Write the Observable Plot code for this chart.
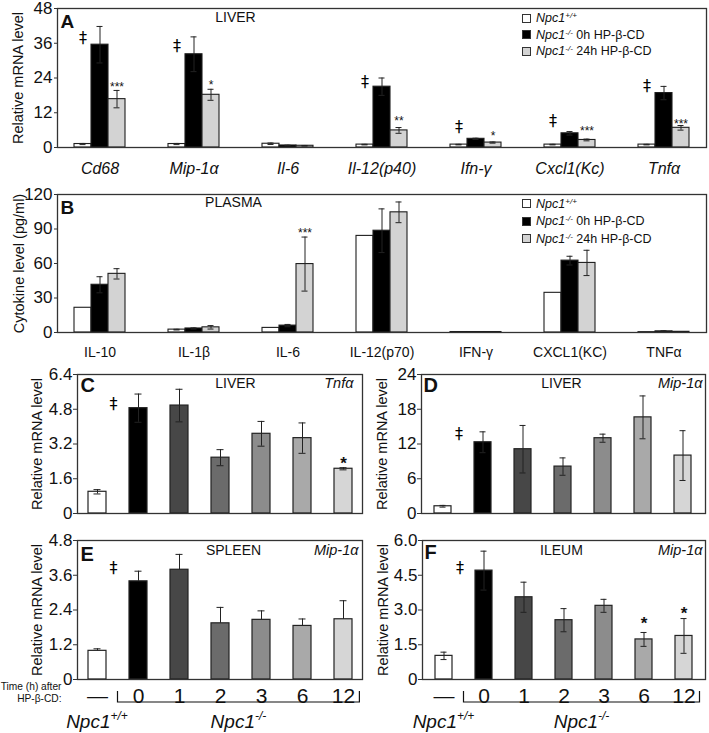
<!DOCTYPE html>
<html><head><meta charset="utf-8">
<script src="https://cdn.jsdelivr.net/npm/d3@7"></script>
<script src="https://cdn.jsdelivr.net/npm/@observablehq/plot@0.6"></script>
<style>
body{margin:0;background:#fff;font-family:"Liberation Sans",Arial,Helvetica,sans-serif;}
#fig{position:relative;width:709px;height:733px;overflow:hidden;background:#fff;}
.panel{position:absolute;}
.legend{position:absolute;font-size:12.5px;color:#111;white-space:nowrap;}
.legend .row{display:flex;align-items:center;}
.legend .sw{display:inline-block;width:7px;height:7px;border:1px solid #333;margin-right:5px;}
.legend i sup{font-size:0.65em;line-height:0;vertical-align:0.55em;}
</style></head>
<body><div id="fig"></div>
<script>
// ================= DATA =================
const seriesNames = ["Npc1+/+", "Npc1-/- 0h HP-β-CD", "Npc1-/- 24h HP-β-CD"];
const seriesFills = ["#ffffff", "#000000", "#d3d3d3"];

// Panel A: liver mRNA
const genesA = ["Cd68", "Mip-1α", "Il-6", "Il-12(p40)", "Ifn-γ", "Cxcl1(Kc)", "Tnfα"];
const wtA = [1.2, 1.2, 1.3, 1.0, 1.0, 1.0, 1.0];
const wtErrA = [0.2, 0.2, 0.25, 0.1, 0.1, 0.1, 0.1];
const ko0hA = [35.5, 32.2, 0.7, 21.0, 3.0, 4.9, 18.8];
const ko0hErrA = [6.3, 6.0, 0.1, 3.0, 0.2, 0.6, 2.3];
const ko24hA = [16.7, 18.2, 0.6, 5.9, 1.7, 2.6, 6.8];
const ko24hErrA = [3.0, 1.9, 0.1, 1.0, 0.2, 0.3, 0.8];
const ticksA = [0, 12, 24, 36, 48];
const daggerCatsA = ["Cd68", "Mip-1α", "Il-12(p40)", "Ifn-γ", "Cxcl1(Kc)", "Tnfα"];
const daggerYA = [38, 35, 22.5, 7, 9.3, 21.4];
const starCatsA = ["Cd68", "Mip-1α", "Il-12(p40)", "Ifn-γ", "Cxcl1(Kc)", "Tnfα"];
const starTextA = ["***", "*", "**", "*", "***", "***"];
const starYA = [22, 22.5, 10, 4.8, 6.6, 9.1];

// Panel B: plasma cytokines
const cytokinesB = ["IL-10", "IL-1β", "IL-6", "IL-12(p70)", "IFN-γ", "CXCL1(KC)", "TNFα"];
const wtB = [21.5, 2.5, 4, 84, 0.4, 34.5, 0.3];
const wtErrB = [0, 0.3, 0, 0, 0, 0, 0];
const ko0hB = [41.5, 3.5, 6, 88.5, 0.4, 62.5, 1.0];
const ko0hErrB = [7, 0.5, 1, 19, 0, 3.8, 0.5];
const ko24hB = [51, 4.5, 59.5, 104.5, 0.4, 60.5, 0.6];
const ko24hErrB = [4.5, 1.5, 23.5, 9, 0, 11, 0.2];
const ticksB = [0, 30, 60, 90, 120];
const starCatsB = ["IL-6"];
const starTextB = ["***"];
const starYB = [88.7];

// Panels C-F: time course
const timeLabels = ["—", "0", "1", "2", "3", "6", "12"];
const timeFills = ["#ffffff", "#000000", "#474747", "#6b6b6b", "#8c8c8c", "#a9a9a9", "#d6d6d6"];

const liverTnfC = [1.0, 4.85, 4.97, 2.57, 3.67, 3.47, 2.06];
const liverTnfErrC = [0.1, 0.65, 0.75, 0.37, 0.57, 0.7, 0.05];
const ticksC = [0, 1.6, 3.2, 4.8, 6.4];
const starsC = ["", "", "", "", "", "", "*"];
const starYC = [0, 0, 0, 0, 0, 0, 2.35];
const daggerYC = 5.07;

const liverMipD = [1.25, 12.3, 11.1, 8.1, 13.0, 16.6, 10.0];
const liverMipErrD = [0.15, 1.8, 4.1, 1.5, 0.7, 3.7, 4.3];
const ticksD = [0, 6, 12, 18, 24];
const daggerYD = 13.8;

const spleenMipE = [0.99, 3.39, 3.79, 1.94, 2.06, 1.85, 2.08];
const spleenMipErrE = [0.07, 0.35, 0.53, 0.55, 0.31, 0.24, 0.64];
const ticksE = [0, 1.2, 2.4, 3.6, 4.8];
const daggerYE = 3.87;

const ileumMipF = [1.02, 4.70, 3.55, 2.56, 3.18, 1.73, 1.88];
const ileumMipErrF = [0.16, 0.84, 0.65, 0.5, 0.28, 0.3, 0.75];
const ticksF = [0, 1.5, 3.0, 4.5, 6.0];
const starsF = ["", "", "", "", "", "*", "*"];
const starYF = [0, 0, 0, 0, 0, 2.46, 2.9];
const daggerYF = 4.83;

// ================= HELPERS =================
const FONT = '"Liberation Sans", Arial, Helvetica, sans-serif';
const SYMFONT = '"DejaVu Sans", "Liberation Sans", sans-serif';
const INK = "#111";
const fig = document.getElementById("fig");
function place(node, left, top) {
  const d = document.createElement("div");
  d.className = "panel";
  d.style.left = left + "px"; d.style.top = top + "px";
  d.appendChild(node); fig.appendChild(d); return d;
}
function yLabelMark(label, dx) {
  return Plot.text([label], {text: d => d, frameAnchor: "left", rotate: -90, dx, textAnchor: "middle", lineAnchor: "middle", fontSize: 14.5, fill: INK});
}
function cornerText(t, anchor, dx, dy, extra) {
  return Plot.text([t], {text: d => d, frameAnchor: anchor, dx, dy, lineAnchor: "middle", fill: INK, ...extra});
}
const fmt1 = d => d === 0 ? "0" : d.toFixed(1);

function groupedPanel(o) {
  const offs = [-17, 0, 17];
  const marks = [];
  const errMarks = [];
  o.series.forEach((s, si) => {
    const d = o.cats.map((c, i) => ({cat: c, v: s.values[i], lo: Math.max(0, s.values[i] - s.err[i]), hi: s.values[i] + s.err[i]}));
    marks.push(Plot.barY(d, {x: "cat", y: "v", fill: s.fill, stroke: "#1e1e1e", strokeWidth: 1.1, insetLeft: si * 17, insetRight: (2 - si) * 17}));
    const de = d.filter(r => r.hi > r.v + 0.001);
    errMarks.push(Plot.ruleX(de, {x: "cat", y1: "lo", y2: "hi", dx: offs[si], stroke: "#222", strokeWidth: 1}));
    errMarks.push(Plot.tickY(de, {x: "cat", y: "hi", dx: offs[si], insetLeft: 22.5, insetRight: 22.5, stroke: "#222", strokeWidth: 1}));
    errMarks.push(Plot.tickY(de, {x: "cat", y: "lo", dx: offs[si], insetLeft: 22.5, insetRight: 22.5, stroke: "#222", strokeWidth: 1}));
  });
  const daggers = (o.daggerCats || []).map((c, i) => ({cat: c, y: o.daggerY[i]}));
  const stars = (o.starCats || []).map((c, i) => ({cat: c, y: o.starY[i], s: o.starText[i]}));
  const svg = Plot.plot({
    width: o.width, height: o.height,
    marginLeft: o.ml, marginRight: o.mr, marginTop: o.mt, marginBottom: o.mb,
    style: {fontFamily: FONT, fontSize: "15px", color: INK, background: "transparent", overflow: "visible"},
    x: {domain: o.cats, paddingInner: 0.46, paddingOuter: 0.16, label: null},
    y: {domain: [0, o.yMax], label: null},
    marks: [
      ...marks,
      ...errMarks,
      Plot.text(daggers, {x: "cat", y: "y", text: () => "‡", dx: -17, fontSize: 16, fontFamily: SYMFONT, fill: "#000"}),
      Plot.text(stars, {x: "cat", y: "y", text: "s", dx: 17, dy: 3, fontSize: 12, fill: INK}),
      Plot.frame({stroke: "#333", strokeWidth: 1.3}),
      Plot.axisY({ticks: o.ticks, tickSize: 3, tickPadding: 2, fontSize: 17, label: null, stroke: "#333"}),
      Plot.axisX({tickSize: 0, tickPadding: o.xPad, fontSize: o.xFont, fontStyle: o.italic ? "italic" : "normal", label: null}),
      yLabelMark(o.yLabel, o.yLabelDx),
      cornerText(o.letter, "top-left", 3, 13.5, {fontSize: 19, fontWeight: "bold", textAnchor: "start"}),
      cornerText(o.title, "top-left", o.titleDx, o.titleDy, {fontSize: 14, textAnchor: "middle"})
    ]
  });
  if (o.italic) d3.select(svg).selectAll('g[aria-label="x-axis tick label"]').attr("font-style", "italic");
  return svg;
}

function timePanel(o) {
  const d = timeLabels.map((t, i) => ({t, v: o.values[i], lo: o.upOnly ? o.values[i] : Math.max(0, o.values[i] - o.err[i]), hi: o.values[i] + o.err[i], fill: timeFills[i], star: (o.stars || [])[i] || "", sy: (o.starY || [])[i] || 0}));
  const starData = d.filter(r => r.star);
  const marks = [
    Plot.barY(d, {x: "t", y: "v", fill: d => d.fill, stroke: "#222", strokeWidth: 1.2, insetLeft: 0, insetRight: 0}),
    Plot.ruleX(d, {x: "t", y1: "lo", y2: "hi", stroke: "#222", strokeWidth: 1}),
    Plot.tickY(d, {x: "t", y: "hi", insetLeft: 5.5, insetRight: 5.5, stroke: "#222", strokeWidth: 1}),
    ...(o.upOnly ? [] : [Plot.tickY(d, {x: "t", y: "lo", insetLeft: 5.5, insetRight: 5.5, stroke: "#222", strokeWidth: 1})]),
    Plot.text([{t: "—", y: o.daggerY}], {x: "t", y: "y", text: () => "‡", dx: 16, fontSize: 16, fontFamily: SYMFONT, fill: "#000"}),
    Plot.text(starData, {x: "t", y: "sy", text: "star", dy: 1, fontSize: 17, fontWeight: "bold", fill: INK}),
    Plot.frame({stroke: "#333", strokeWidth: 1.3}),
    Plot.axisY({ticks: o.ticks, tickSize: 4, tickPadding: 1, fontSize: 17, tickFormat: o.fmt, label: null, stroke: "#333"}),
    yLabelMark("Relative mRNA level", o.yLabelDx),
    cornerText(o.letter, "top-left", o.letterDx, o.letterDy, {fontSize: 20, fontWeight: "bold", textAnchor: "start"}),
    cornerText(o.title, "top-left", o.titleDx, o.titleDy, {fontSize: 14, textAnchor: "middle"}),
    cornerText(o.gene, "top-right", o.geneDx, o.titleDy, {fontSize: 14.5, fontStyle: "italic", textAnchor: "end"})
  ];
  if (o.xAxis) marks.push(Plot.axisX({tickSize: 0, tickPadding: 9, fontSize: 21, label: null}));
  const svg = Plot.plot({
    width: o.width, height: o.height,
    marginLeft: o.ml, marginRight: o.mr, marginTop: o.mt, marginBottom: o.mb,
    style: {fontFamily: FONT, fontSize: "15px", color: INK, background: "transparent", overflow: "visible"},
    x: {domain: timeLabels, paddingInner: 0.57, paddingOuter: 0.26, label: null, axis: o.xAxis ? undefined : null},
    y: {domain: [0, o.yMax], label: null},
    marks
  });
  if (o.bracket) addBracket(svg, o);
  return svg;
}

function addBracket(svg, o) {
  const sx = svg.scale("x");
  const band = d3.scaleBand(sx.domain, sx.range)
    .paddingInner(sx.paddingInner).paddingOuter(sx.paddingOuter)
    .align(sx.align ?? 0.5).round(!!sx.round);
  const c = k => band(k) + band.bandwidth() / 2;
  const step = band.step();
  const yb = o.height - o.mb;
  const x0 = (c(timeLabels[0]) + c(timeLabels[1])) / 2;
  const x1 = c(timeLabels[timeLabels.length - 1]) + step * 0.4;
  const root = d3.select(svg);
  root.append("path")
    .attr("d", `M${x0},${yb + 12}V${yb + 23}H${x1}V${yb + 12}`)
    .attr("fill", "none").attr("stroke", "#111").attr("stroke-width", 1.2);
  const g = root.append("g").attr("font-family", FONT).attr("font-style", "italic").attr("fill", INK).attr("text-anchor", "middle");
  const addGeno = (x, sup) => {
    const t = g.append("text").attr("x", x).attr("y", yb + 49).attr("font-size", 19);
    t.append("tspan").text("Npc1");
    t.append("tspan").attr("dy", -8).attr("font-size", 12).text(sup);
  };
  addGeno(c(timeLabels[0]), "+/+");
  addGeno((x0 + x1) / 2, "-/-");
  if (o.timeCaption) {
    const tg = root.append("g").attr("font-family", FONT).attr("font-size", 10.2).attr("fill", INK).attr("text-anchor", "end");
    tg.append("text").attr("x", o.ml - 15.5).attr("y", yb + 11).text("Time (h) after");
    tg.append("text").attr("x", o.ml - 15.5).attr("y", yb + 22.5).text("HP-β-CD:");
  }
}

function legend(left, top, lh) {
  const div = document.createElement("div");
  div.className = "legend";
  div.style.left = left + "px"; div.style.top = top + "px";
  seriesNames.forEach((n, i) => {
    const row = document.createElement("div");
    row.className = "row"; row.style.height = lh + "px";
    const sw = document.createElement("span"); sw.className = "sw"; sw.style.background = seriesFills[i];
    row.appendChild(sw);
    const m = n.match(/^(Npc1)(\S+)(.*)$/);
    const lab = document.createElement("span");
    lab.innerHTML = `<i>${m[1]}<sup>${m[2]}</sup></i>${m[3]}`;
    row.appendChild(lab);
    div.appendChild(row);
  });
  fig.appendChild(div);
}

// ================= PANELS =================
place(groupedPanel({
  cats: genesA,
  series: [{values: wtA, err: wtErrA, fill: seriesFills[0]}, {values: ko0hA, err: ko0hErrA, fill: seriesFills[1]}, {values: ko24hA, err: ko24hErrA, fill: seriesFills[2]}],
  yMax: 48, ticks: ticksA, yLabel: "Relative mRNA level", yLabelDx: -39,
  letter: "A", title: "LIVER", titleDx: 178, titleDy: 9,
  width: 709, height: 180, ml: 57, mr: 3, mt: 8, mb: 33,
  xPad: 15, xFont: 16, italic: true,
  daggerCats: daggerCatsA, daggerY: daggerYA, starCats: starCatsA, starY: starYA, starText: starTextA
}), 0, 0);
legend(522, 10, 16.5);

place(groupedPanel({
  cats: cytokinesB,
  series: [{values: wtB, err: wtErrB, fill: seriesFills[0]}, {values: ko0hB, err: ko0hErrB, fill: seriesFills[1]}, {values: ko24hB, err: ko24hErrB, fill: seriesFills[2]}],
  yMax: 120, ticks: ticksB, yLabel: "Cytokine level (pg/ml)", yLabelDx: -38.5,
  letter: "B", title: "PLASMA", titleDx: 176, titleDy: 8,
  width: 709, height: 180, ml: 57, mr: 3, mt: 14, mb: 28,
  xPad: 15, xFont: 14, italic: false,
  starCats: starCatsB, starY: starYB, starText: starTextB
}), 0, 180);
legend(522, 195, 17.5);

place(timePanel({
  values: liverTnfC, err: liverTnfErrC, yMax: 6.4, ticks: ticksC, fmt: fmt1,
  letter: "C", letterDx: 3, letterDy: 11.5, title: "LIVER", titleDx: 158, titleDy: 9, gene: "Tnfα", geneDx: -9,
  daggerY: daggerYC, stars: starsC, starY: starYC, yLabelDx: -40.5,
  width: 365, height: 165, ml: 77, mr: 3, mt: 14, mb: 12
}), 0, 360);

place(timePanel({
  values: liverMipD, err: liverMipErrD, yMax: 24, ticks: ticksD, fmt: d => String(d),
  letter: "D", letterDx: 2, letterDy: 11.5, title: "LIVER", titleDx: 140, titleDy: 9, gene: "Mip-1α", geneDx: -3,
  daggerY: daggerYD, yLabelDx: -39,
  width: 354, height: 165, ml: 66, mr: 4, mt: 14, mb: 12
}), 355, 360);

place(timePanel({
  values: spleenMipE, err: spleenMipErrE, upOnly: true, yMax: 4.8, ticks: ticksE, fmt: fmt1,
  letter: "E", letterDx: 3, letterDy: 14.5, title: "SPLEEN", titleDx: 156, titleDy: 10, gene: "Mip-1α", geneDx: -4,
  daggerY: daggerYE, yLabelDx: -40.5, xAxis: true, bracket: true, timeCaption: true,
  width: 365, height: 208, ml: 77, mr: 3, mt: 15, mb: 54
}), 0, 525);

place(timePanel({
  values: ileumMipF, err: ileumMipErrF, yMax: 6.0, ticks: ticksF, fmt: fmt1,
  letter: "F", letterDx: 2, letterDy: 12.5, title: "ILEUM", titleDx: 139, titleDy: 10, gene: "Mip-1α", geneDx: -3,
  daggerY: daggerYF, stars: starsF, starY: starYF, yLabelDx: -39, xAxis: true, bracket: true,
  width: 354, height: 208, ml: 67, mr: 4, mt: 15, mb: 54
}), 355, 525);
</script></body></html>
